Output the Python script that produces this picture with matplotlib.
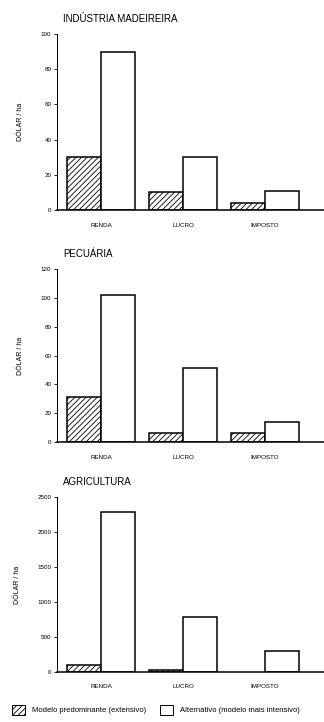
import matplotlib.pyplot as plt
import numpy as np
from matplotlib.patches import Patch

plt.rcParams["font.family"] = ["Liberation Sans", "DejaVu Sans"]
plt.rcParams["hatch.linewidth"] = 0.6

categorias = ["RENDA", "LUCRO", "IMPOSTO"]

titulos = ["INDÚSTRIA MADEIREIRA", "PECUÁRIA", "AGRICULTURA"]
predominante = [
    [30, 10, 4],
    [31, 6, 6],
    [100, 30, 0],
]
alternativo = [
    [90, 30, 11],
    [102, 51, 14],
    [2280, 790, 300],
]
limites = [100, 120, 2500]
passos = [20, 20, 500]

legenda = ["Modelo predominante (extensivo)", "Alternativo (modelo mais intensivo)"]

fig = plt.figure(figsize=(3.24, 7.22), dpi=100)

# posicao de cada painel: (bottom, height) em fracao da figura
paineis = [(0.709, 0.2438), (0.3878, 0.2396), (0.0693, 0.2424)]

x = np.arange(len(categorias))
w = 0.415

for i, (b, h) in enumerate(paineis):
    ax = fig.add_axes([0.176, b, 0.824, h])
    pred = np.array(predominante[i])
    alt = np.array(alternativo[i])
    mask = pred > 0
    ax.bar(x[mask] - w / 2, pred[mask], w, facecolor="white", edgecolor="black",
           hatch="//////", linewidth=1.1)
    ax.bar(x + w / 2, alt, w, facecolor="white", edgecolor="black", linewidth=1.1)

    ax.set_xlim(-0.537, 2.72)
    ax.set_ylim(0, limites[i])
    ax.set_yticks(np.arange(0, limites[i] + 1, passos[i]))
    ax.set_xticks(x)
    ax.set_xticklabels(categorias, fontsize=4.5)
    ax.tick_params(axis="y", labelsize=4.5, length=2, width=0.6, pad=2)
    ax.tick_params(axis="x", length=0, pad=9)
    ax.spines["top"].set_visible(False)
    ax.spines["right"].set_visible(False)
    ax.spines["left"].set_linewidth(0.7)
    ax.spines["bottom"].set_linewidth(1.1)
    ax.set_ylabel("DÓLAR / ha", fontsize=5, labelpad=12)
    fig.text(0.195, b + h + 0.021, titulos[i], fontsize=7, ha="left", va="center")

handles = [
    Patch(facecolor="white", edgecolor="black", hatch="//////", linewidth=0.7),
    Patch(facecolor="white", edgecolor="black", linewidth=0.7),
]
fig.legend(handles, legenda, loc="center left", bbox_to_anchor=(0.037, 0.017), ncol=2,
           fontsize=5.5, frameon=False, handlelength=1.7, handleheight=1.7,
           columnspacing=1.9, handletextpad=0.9, borderpad=0, borderaxespad=0)

fig.savefig("out.png", dpi=100)
